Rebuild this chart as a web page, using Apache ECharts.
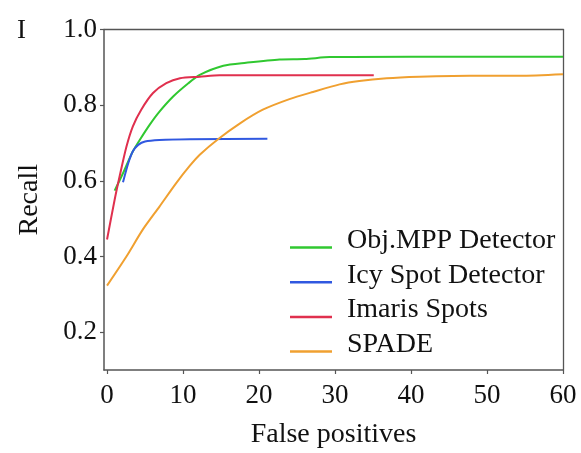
<!DOCTYPE html>
<html>
<head>
<meta charset="utf-8">
<script src="https://cdn.jsdelivr.net/npm/echarts@6/dist/echarts.min.js"></script>
<style>
html,body{margin:0;padding:0;background:#fff;}
#main{width:581px;height:453px;}
</style>
</head>
<body>
<div id="main"></div>
<script>
const seriesNames = ['Obj.MPP Detector', 'Icy Spot Detector', 'Imaris Spots', 'SPADE'];
const xTicks = [0, 10, 20, 30, 40, 50, 60];
const yTicks = [0.2, 0.4, 0.6, 0.8, 1.0];

const mppX = [1.0, 2.1, 3.4, 4.3, 5.6, 6.9, 8.7, 10.7, 12.2, 15.3, 18.3, 22.7, 26.0, 29.3, 40, 50, 60];
const mppY = [0.574, 0.62, 0.678, 0.708, 0.748, 0.783, 0.823, 0.858, 0.88, 0.904, 0.912, 0.921, 0.922, 0.927, 0.928, 0.928, 0.928];

const icyX = [2.1, 2.8, 3.4, 4.1, 5.0, 6.9, 10.9, 21.1];
const icyY = [0.596, 0.647, 0.678, 0.695, 0.704, 0.708, 0.71, 0.711];

const imarisX = [0, 1.0, 1.7, 2.55, 3.4, 4.5, 6.05, 7.8, 9.6, 12.2, 14.8, 35.1];
const imarisY = [0.445, 0.55, 0.616, 0.69, 0.744, 0.788, 0.832, 0.858, 0.871, 0.875, 0.879, 0.879];

const spadeX = [0, 2.55, 4.7, 6.9, 9.1, 10.9, 12.2, 14.6, 17.5, 20.5, 24.0, 27.1, 30.6, 33.2, 36.8, 41.1, 45.5, 49.9, 54.3, 60];
const spadeY = [0.323, 0.40, 0.471, 0.532, 0.594, 0.64, 0.669, 0.71, 0.752, 0.788, 0.816, 0.835, 0.855, 0.864, 0.871, 0.875, 0.877, 0.878, 0.878, 0.882];

const colors = ['#30c830', '#3058e0', '#e0304e', '#f0a030'];

function pairs(xs, ys) { return xs.map((x, i) => [x, ys[i]]); }
const allData = [pairs(mppX, mppY), pairs(icyX, icyY), pairs(imarisX, imarisY), pairs(spadeX, spadeY)];

const font = 'Liberation Serif';
const axisColor = '#555';
const frameAxis = {
  type: 'value', axisLine: {show: true, onZero: false, lineStyle: {color: axisColor, width: 1.3}},
  axisTick: {show: false}, axisLabel: {show: false}, splitLine: {show: false}
};
const chart = echarts.init(document.getElementById('main'), null, {renderer: 'canvas'});
chart.setOption({
  animation: false,
  backgroundColor: '#fff',
  title: {
    text: 'I', left: 12, top: 12,
    textStyle: {fontFamily: font, fontSize: 27, fontWeight: 'normal', color: '#111'}
  },
  grid: {
    left: 104, right: 18, top: 29.5, bottom: 83,
    containLabel: false, outerBoundsMode: 'none', show: false
  },
  legend: {
    orient: 'vertical', left: 290, top: 226.5, padding: 0,
    icon: 'rect', itemWidth: 42, itemHeight: 2.5, itemGap: -7.3,
    data: seriesNames,
    formatter: name => '{t|' + name + '}',
    textStyle: {
      fontFamily: font, fontSize: 28, color: '#111',
      rich: {t: {fontFamily: font, fontSize: 28, color: '#111', lineHeight: 27, padding: [0, 0, 14, 10]}}
    }
  },
  xAxis: [{
    type: 'value', min: -0.4, max: 60, position: 'bottom',
    name: 'False positives', nameLocation: 'middle', nameGap: 51,
    nameTextStyle: {fontFamily: font, fontSize: 28, color: '#111'},
    axisLine: {show: true, onZero: false, lineStyle: {color: axisColor, width: 1.5}},
    axisTick: {show: true, length: 4, customValues: xTicks, lineStyle: {color: axisColor, width: 1.2}},
    axisLabel: {customValues: xTicks, fontFamily: font, fontSize: 27, color: '#111', margin: 12},
    splitLine: {show: false}
  }, Object.assign({}, frameAxis, {min: -0.4, max: 60, position: 'top'})],
  yAxis: [{
    type: 'value', min: 0.1, max: 1.0, position: 'left',
    name: 'Recall', nameLocation: 'middle', nameGap: 60, nameRotate: 90,
    nameTextStyle: {fontFamily: font, fontSize: 28, color: '#111'},
    axisLine: {show: true, onZero: false, lineStyle: {color: axisColor, width: 1.5}},
    axisTick: {show: true, length: 4, customValues: yTicks, lineStyle: {color: axisColor, width: 1.2}},
    axisLabel: {
      customValues: yTicks, fontFamily: font, fontSize: 27, color: '#111', margin: 7,
      formatter: v => v.toFixed(1), padding: [0, 0, 14, 0]
    },
    splitLine: {show: false}
  }, Object.assign({}, frameAxis, {min: 0.1, max: 1.0, position: 'right'})],
  series: seriesNames.map((n, i) => ({
    name: n, type: 'line', data: allData[i], symbol: 'none', smooth: 0.25,
    lineStyle: {color: colors[i], width: 2},
    itemStyle: {color: colors[i]}
  }))
});
</script>
</body>
</html>
